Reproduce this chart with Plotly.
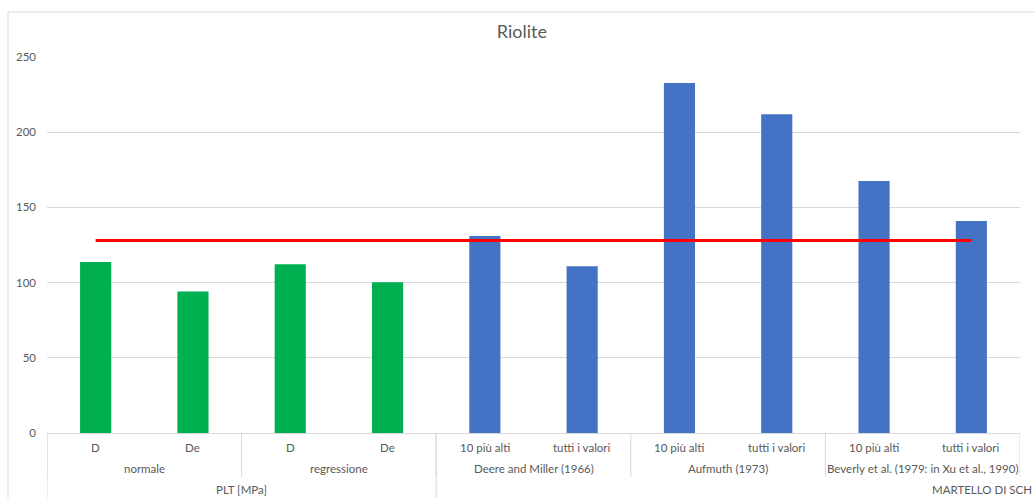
import plotly.graph_objects as go

# Category levels (bottom axis, three rows)
sub_labels = ["D", "De", "D", "De", "10 più alti", "tutti i valori",
              "10 più alti", "tutti i valori", "10 più alti", "tutti i valori"]
group_labels = ["normale", "regressione", "Deere and Miller (1966)",
                "Aufmuth (1973)", "Beverly et al. (1979: in Xu et al., 1990)"]
group_sizes = [2, 2, 2, 2, 2]
top_labels = ["PLT [MPa]", "MARTELLO DI SCH"]
top_sizes = [4, 6]

# Values (MPa)
values = [113.7, 94.0, 112.2, 100.2, 131.0, 110.8, 232.7, 212.0, 167.5, 141.0]
bar_colors = ["#00B050"] * 4 + ["#4472C4"] * 6
reference_value = 128.0

GREY = "#595959"
LINE = "#D9D9D9"
FONT = "Lato"
FS = 11.5

x = list(range(len(values)))

fig = go.Figure()
fig.add_trace(go.Bar(x=x, y=values, marker_color=bar_colors,
                     marker_line_width=0, width=0.32, showlegend=False))
fig.add_trace(go.Scatter(x=x, y=[reference_value] * len(x), mode="lines",
                         line=dict(color="#FF0000", width=3), showlegend=False))

annotations = []
shapes = []

# row 1: sub-category labels
for i, lab in enumerate(sub_labels):
    annotations.append(dict(x=i, y=0, xref="x", yref="paper", text=lab,
                            showarrow=False, yanchor="middle", yshift=-14,
                            font=dict(size=FS, color=GREY, family=FONT)))

# row 2: group labels with dividers
start = 0
bounds = [-0.5]
for lab, n in zip(group_labels, group_sizes):
    center = start + (n - 1) / 2
    annotations.append(dict(x=center, y=0, xref="x", yref="paper", text=lab,
                            showarrow=False, yanchor="middle", yshift=-35,
                            font=dict(size=FS, color=GREY, family=FONT)))
    start += n
    bounds.append(start - 0.5)
for b in bounds:
    shapes.append(dict(type="line", xref="x", yref="paper", x0=b, x1=b,
                       ysizemode="pixel", yanchor=0, y0=0, y1=-44,
                       line=dict(color=LINE, width=1)))

# row 3: top-level labels
start = 0
top_bounds = [-0.5]
for n in top_sizes:
    start += n
    top_bounds.append(start - 0.5)
annotations.append(dict(x=(top_sizes[0] - 1) / 2, y=0, xref="x", yref="paper",
                        text=top_labels[0], showarrow=False, yanchor="middle",
                        yshift=-56, font=dict(size=FS, color=GREY, family=FONT)))
annotations.append(dict(x=1, y=0, xref="paper", yref="paper", text=top_labels[1],
                        showarrow=False, xanchor="right", xshift=14,
                        yanchor="middle", yshift=-56,
                        font=dict(size=FS, color=GREY, family=FONT)))
for b in top_bounds[:2]:
    shapes.append(dict(type="line", xref="x", yref="paper", x0=b, x1=b,
                       ysizemode="pixel", yanchor=0, y0=0, y1=-80,
                       line=dict(color=LINE, width=1)))

# chart frame
shapes.append(dict(type="rect", xref="paper", yref="paper",
                   xsizemode="pixel", xanchor=0, x0=-39, x1=1100,
                   ysizemode="pixel", yanchor=1, y0=45, y1=-500,
                   line=dict(color=LINE, width=1), fillcolor="rgba(0,0,0,0)",
                   layer="below"))

fig.update_layout(
    width=1035, height=498,
    margin=dict(l=47, r=15, t=57, b=65),
    paper_bgcolor="white", plot_bgcolor="white",
    title=dict(text="Riolite", x=0.488, xref="paper", xanchor="center",
               y=1 - 32 / 498, yref="container", yanchor="middle",
               font=dict(size=18, color=GREY, family=FONT)),
    xaxis=dict(range=[-0.5, len(values) - 0.5], showticklabels=False,
               showgrid=False, zeroline=False, showline=True,
               linecolor=LINE, linewidth=1, ticks=""),
    yaxis=dict(range=[0, 250], dtick=50, showgrid=True, gridcolor=LINE,
               gridwidth=1, zeroline=False, showline=False, ticks="",
               ticklabelstandoff=10,
               tickfont=dict(size=FS, color=GREY, family=FONT)),
    annotations=annotations,
    shapes=shapes,
    bargap=0.68,
)

fig.write_html("out.html")
